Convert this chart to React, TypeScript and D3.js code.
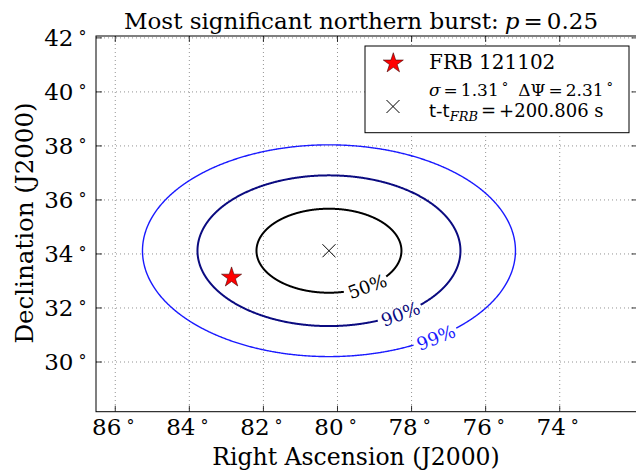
import React from "react";
import * as d3 from "d3";

const RA_TICKS = [86, 84, 82, 80, 78, 76, 74];
const DEC_TICKS = [30, 32, 34, 36, 38, 40, 42];
const CENTER_RA = 80.23;
const CENTER_DEC = 34.12;
const FRB_RA = 82.86;
const FRB_DEC = 33.13;
const LEVEL_LABELS = ["50%", "90%", "99%"];
const DEC_RADII = [1.555, 2.79, 3.92];
const RA_RADII = [1.957, 3.55, 5.035];
const LABEL_ANGLES = [58, 57, 55];

const LEVEL_COLORS = ["#000000", "#0b0b80", "#1a1aff"];
const LEVEL_WIDTHS = [2, 2, 1.4];

const W = 636;
const H = 470;
const SERIF = "DejaVu Serif";
const SANS = "DejaVu Sans";

export default function App() {
  const left = 96, right = 637.5, top = 36, bottom = 411.7;
  const x = d3.scaleLinear().domain([86.52, 71.9]).range([left, right]);
  const y = d3.scaleLinear().domain([28.16, 42.07]).range([bottom, top]);
  const cx = x(CENTER_RA);
  const cy = y(CENTER_DEC);

  const contours = LEVEL_LABELS.map((lab, i) => {
    const A = Math.abs(x(CENTER_RA + RA_RADII[i]) - cx);
    const B = Math.abs(y(CENTER_DEC + DEC_RADII[i]) - cy);
    const t0 = (LABEL_ANGLES[i] * Math.PI) / 180;
    const speed = Math.hypot(A * Math.sin(t0), B * Math.cos(t0));
    const g = 23 / speed;
    const ts = d3.range(t0 + g, t0 + 2 * Math.PI - g, 0.005);
    ts.push(t0 + 2 * Math.PI - g);
    const line = d3
      .line<number>()
      .x((t) => cx + A * Math.cos(t))
      .y((t) => cy + B * Math.sin(t));
    const lx = cx + A * Math.cos(t0);
    const ly = cy + B * Math.sin(t0);
    let ang = (Math.atan2(B * Math.cos(t0), -A * Math.sin(t0)) * 180) / Math.PI;
    if (ang > 90) ang -= 180;
    if (ang < -90) ang += 180;
    return { lab, d: line(ts) || "", lx, ly, ang, color: LEVEL_COLORS[i], w: LEVEL_WIDTHS[i] };
  });

  const star = d3.symbol(d3.symbolStar, 125)() || "";

  const clipId = "plotclip";
  return (
    <svg
      width={W}
      height={H}
      style={{ position: "absolute", left: 0, top: 0, background: "#fff" }}
      fontFamily={SERIF}
    >
      <defs>
        <clipPath id={clipId}>
          <rect x={left} y={top} width={right - left} height={bottom - top} />
        </clipPath>
      </defs>
      <rect x={0} y={0} width={W} height={H} fill="#fff" />
      <g clipPath={`url(#${clipId})`}>
        {RA_TICKS.map((t) => (
          <line key={"gx" + t} x1={x(t)} x2={x(t)} y1={top} y2={bottom} stroke="#777" strokeWidth={0.8} strokeDasharray="1,3" />
        ))}
        {DEC_TICKS.map((t) => (
          <line key={"gy" + t} x1={left} x2={right} y1={y(t)} y2={y(t)} stroke="#777" strokeWidth={0.8} strokeDasharray="1,3" />
        ))}
        {RA_TICKS.map((t) => (
          <g key={"tx" + t}>
            <line x1={x(t)} x2={x(t)} y1={bottom} y2={bottom - 6} stroke="#000" strokeWidth={0.8} />
            <line x1={x(t)} x2={x(t)} y1={top} y2={top + 6} stroke="#000" strokeWidth={0.8} />
          </g>
        ))}
        {DEC_TICKS.map((t) => (
          <g key={"ty" + t}>
            <line x1={left} x2={left + 6} y1={y(t)} y2={y(t)} stroke="#000" strokeWidth={0.8} />
            <line x1={right} x2={right - 6} y1={y(t)} y2={y(t)} stroke="#000" strokeWidth={0.8} />
          </g>
        ))}
        {contours.map((c) => (
          <g key={c.lab}>
            <path d={c.d} fill="none" stroke={c.color} strokeWidth={c.w} />
            <text
              x={c.lx}
              y={c.ly}
              transform={`rotate(${c.ang},${c.lx},${c.ly})`}
              textAnchor="middle"
              dominantBaseline="central"
              fontSize={18}
              fill={c.color}
            >
              {c.lab}
            </text>
          </g>
        ))}
        <path
          d={`M${cx - 6.5},${cy - 6.5}L${cx + 6.5},${cy + 6.5}M${cx - 6.5},${cy + 6.5}L${cx + 6.5},${cy - 6.5}`}
          stroke="#000"
          strokeWidth={1}
        />
        <path d={star} transform={`translate(${x(FRB_RA)},${y(FRB_DEC)})`} fill="#ff0000" stroke="#400" strokeWidth={0.6} />
      </g>
      <rect x={left} y={top} width={right - left} height={bottom - top} fill="none" stroke="#000" strokeWidth={1} />
      {RA_TICKS.map((t) => (
        <text key={"lx" + t} x={x(t) - 2} y={435} textAnchor="middle" fontSize={23}>
          {t}
          <tspan dx={5} dy={-4} fontSize={16}>°</tspan>
        </text>
      ))}
      {DEC_TICKS.map((t) => (
        <text key={"ly" + t} x={86.5} y={y(t) + 8} textAnchor="end" fontSize={23}>
          {t}
          <tspan dx={5} dy={-4} fontSize={16}>°</tspan>
        </text>
      ))}
      <text x={356} y={465} textAnchor="middle" fontSize={23.5}>
        Right Ascension (J2000)
      </text>
      <text transform="translate(32.5,223) rotate(-90)" textAnchor="middle" fontSize={24.5}>
        Declination (J2000)
      </text>
      <text x={361} y={29} textAnchor="middle" fontSize={23}>
        Most significant northern burst:
        <tspan fontStyle="italic" dx={6}>p</tspan>
        <tspan dx={4}>=</tspan>
        <tspan dx={4}>0.25</tspan>
      </text>
      <rect x={365} y={46} width={264} height={86.7} fill="#fff" stroke="#000" strokeWidth={1} />
      <path d={star} transform="translate(393.3,63.3)" fill="#ff0000" stroke="#400" strokeWidth={0.6} />
      <text x={429} y={69} fontSize={20}>FRB 121102</text>
      <path d="M386.5,100L399.5,113M386.5,113L399.5,100" stroke="#000" strokeWidth={1} />
      <text x={429} y={96} fontSize={17}>
        <tspan fontStyle="italic">σ</tspan>
        <tspan dx={3}>=</tspan>
        <tspan dx={3}>1.31</tspan>
        <tspan dx={3} dy={-4} fontSize={13}>°</tspan>
        <tspan dx={10} dy={4}>ΔΨ</tspan>
        <tspan dx={3}>=</tspan>
        <tspan dx={3}>2.31</tspan>
        <tspan dx={3} dy={-4} fontSize={13}>°</tspan>
      </text>
      <text x={429} y={117} fontSize={18}>
        <tspan fontFamily={SANS}>t-t</tspan>
        <tspan fontStyle="italic" fontSize={13} dy={4}>FRB</tspan>
        <tspan dy={-4} dx={3}>=</tspan>
        <tspan dx={3}>+200.806 s</tspan>
      </text>
    </svg>
  );
}
